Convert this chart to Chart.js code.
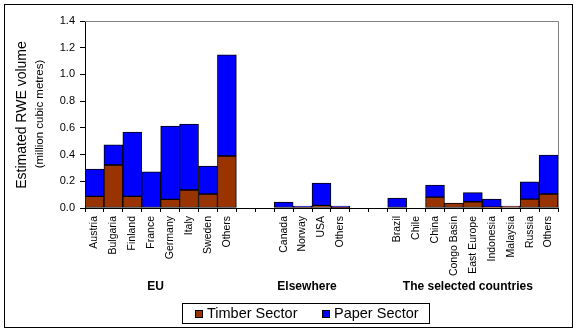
<!DOCTYPE html>
<html>
<head>
<meta charset="utf-8">
<script src="https://cdn.jsdelivr.net/npm/chart.js@4/dist/chart.umd.min.js"></script>
<style>
html,body{margin:0;padding:0;background:#fff;}
#c{display:block;}
</style>
</head>
<body>
<canvas id="c" width="577" height="332"></canvas>
<script>
// Categories (empty strings are the gaps between groups)
const categories = ["Austria","Bulgaria","Finland","France","Germany","Italy","Sweden","Others",
  "","",
  "Canada","Norway","USA","Others",
  "","",
  "Brazil","Chile","China","Congo Basin","East Europe","Indonesia","Malaysia","Russia","Others"];

// Timber sector values (million cubic metres)
const timberSector = [0.087,0.322,0.087,null,0.065,0.135,0.105,0.389,
  null,null,
  null,0.004,0.020,0.003,
  null,null,
  null,null,0.082,0.037,0.047,0.006,0.013,0.067,0.105];

// Paper sector values (million cubic metres)
const paperSector = [0.205,0.150,0.482,0.270,0.549,0.494,0.209,0.757,
  null,null,
  0.045,0.011,0.167,0.012,
  null,null,
  0.075,null,0.090,null,0.068,0.061,0.002,0.128,0.292];

// Groups of categories
const groupNames = ["EU","Elsewhere","The selected countries"];
const groupFirst = [0,10,16];
const groupLast = [7,13,24];

const yTicks = [0,0.2,0.4,0.6,0.8,1.0,1.2,1.4];

const FONT = "'Liberation Sans', Arial, sans-serif";

const decor = {
  id: 'decor',
  afterDraw(chart) {
    const ctx = chart.ctx;
    const a = chart.chartArea;
    const xs = chart.scales.x;
    ctx.save();
    // plot border top/right (gray)
    ctx.strokeStyle = '#808080';
    ctx.lineWidth = 1;
    ctx.beginPath();
    ctx.moveTo(a.left, Math.round(a.top) + 0.5);
    ctx.lineTo(Math.round(a.right) + 0.5, Math.round(a.top) + 0.5);
    ctx.lineTo(Math.round(a.right) + 0.5, a.bottom);
    ctx.stroke();
    // outer border
    ctx.strokeStyle = '#000';
    ctx.strokeRect(4.5, 4.5, 568, 323);
    // y title
    ctx.fillStyle = '#000';
    ctx.textAlign = 'center';
    ctx.textBaseline = 'middle';
    ctx.save();
    ctx.translate(22, 115);
    ctx.rotate(-Math.PI / 2);
    ctx.font = '14px ' + FONT;
    ctx.fillText('Estimated RWE volume', 0, 0);
    ctx.restore();
    ctx.save();
    ctx.translate(40, 114);
    ctx.rotate(-Math.PI / 2);
    ctx.font = '11.5px ' + FONT;
    ctx.fillText('(million cubic metres)', 0, 0);
    ctx.restore();
    // group labels
    ctx.font = 'bold 12px ' + FONT;
    for (let i = 0; i < groupNames.length; i++) {
      const x = (xs.getPixelForValue(groupFirst[i]) + xs.getPixelForValue(groupLast[i])) / 2;
      ctx.fillText(groupNames[i], x - 5, 287);
    }
    // legend
    ctx.strokeStyle = '#000';
    ctx.strokeRect(182.5, 303.5, 247, 20);
    const items = chart.data.datasets;
    const sqX = [195, 322];
    ctx.font = '14.5px ' + FONT;
    ctx.textAlign = 'left';
    for (let i = 0; i < items.length; i++) {
      ctx.fillStyle = items[i].backgroundColor;
      ctx.fillRect(sqX[i], 310, 7, 7);
      ctx.strokeRect(sqX[i] + 0.5, 310.5, 7, 7);
      ctx.fillStyle = '#000';
      ctx.fillText(items[i].label, sqX[i] + 12, 314);
    }
    ctx.restore();
  }
};

new Chart(document.getElementById('c'), {
  type: 'bar',
  data: {
    labels: categories,
    datasets: [
      { label: 'Timber Sector', data: timberSector, backgroundColor: '#993300', borderColor: '#000', borderWidth: 1, borderSkipped: false },
      { label: 'Paper Sector', data: paperSector, backgroundColor: '#0000FF', borderColor: '#000', borderWidth: 1, borderSkipped: false }
    ]
  },
  options: {
    responsive: false,
    animation: false,
    devicePixelRatio: 1,
    categoryPercentage: 1,
    barPercentage: 1,
    layout: { padding: { left: 5, right: 19, top: 21, bottom: 0 } },
    plugins: { legend: { display: false }, tooltip: { enabled: false } },
    scales: {
      x: {
        stacked: true,
        grid: { display: true, drawOnChartArea: false, offset: true, tickLength: 4, color: '#000' },
        border: { color: '#000', width: 1 },
        ticks: { autoSkip: false, minRotation: 90, maxRotation: 90, padding: 4, color: '#000', font: { family: FONT, size: 10.5 } },
        afterFit: s => { s.height = 124; }
      },
      y: {
        stacked: true,
        min: 0, max: 1.4,
        afterBuildTicks: s => { s.ticks = yTicks.map(v => ({ value: v })); },
        grid: { display: true, drawOnChartArea: false, tickLength: 5, color: '#000' },
        border: { color: '#000', width: 1 },
        ticks: { padding: 5, color: '#000', font: { family: FONT, size: 11 }, callback: v => Number(v).toFixed(1) },
        afterFit: s => { s.width = 80; }
      }
    }
  },
  plugins: [decor]
});
</script>
</body>
</html>
